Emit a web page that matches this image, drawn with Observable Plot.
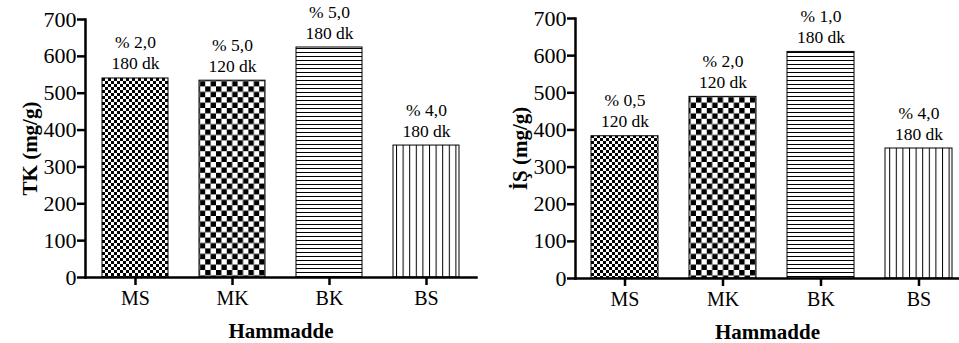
<!DOCTYPE html>
<html>
<head>
<meta charset="utf-8">
<script src="https://cdn.jsdelivr.net/npm/d3@7"></script>
<script src="https://cdn.jsdelivr.net/npm/@observablehq/plot@0.6"></script>
<style>
  html, body { margin: 0; padding: 0; background: #fff; }
  #row { display: flex; width: 959px; height: 343px; overflow: hidden; }
  #row svg { display: block; }
  #row svg, #row svg text { font-family: "Liberation Serif", "Times New Roman", Times, serif !important; }
</style>
</head>
<body>
<div id="row"></div>
<script>
// Raw materials on the x axis
const categories = ["MS", "MK", "BK", "BS"];

// TK (mg/g) panel
const tkValues = [540, 534, 624, 358];
const tkDose = ["% 2,0", "% 5,0", "% 5,0", "% 4,0"];
const tkTime = ["180 dk", "120 dk", "180 dk", "180 dk"];

// İŞ (mg/g) panel
const isValues = [383, 489, 610, 350];
const isDose = ["% 0,5", "% 2,0", "% 1,0", "% 4,0"];
const isTime = ["120 dk", "120 dk", "180 dk", "180 dk"];

const yTicks = [0, 100, 200, 300, 400, 500, 600, 700];
const xTitle = "Hammadde";

// Hatch / checker fills, one per raw material
function addPatterns(svg, id) {
  const defs = d3.select(svg).insert("defs", ":first-child");
  const checker = (name, c) => {
    const p = defs.append("pattern").attr("id", `${id}-${name}`)
      .attr("patternUnits", "userSpaceOnUse").attr("width", 2 * c).attr("height", 2 * c);
    p.append("rect").attr("width", 2 * c).attr("height", 2 * c).attr("fill", "#fff");
    p.append("rect").attr("width", c).attr("height", c).attr("fill", "#000");
    p.append("rect").attr("x", c).attr("y", c).attr("width", c).attr("height", c).attr("fill", "#000");
  };
  checker("MS", 3);
  checker("MK", 5.4);
  const h = defs.append("pattern").attr("id", `${id}-BK`)
    .attr("patternUnits", "userSpaceOnUse").attr("width", 10).attr("height", 4);
  h.append("rect").attr("width", 10).attr("height", 4).attr("fill", "#fff");
  h.append("rect").attr("y", 0).attr("width", 10).attr("height", 1).attr("fill", "#000");
  const v = defs.append("pattern").attr("id", `${id}-BS`)
    .attr("patternUnits", "userSpaceOnUse").attr("width", 6.6).attr("height", 10);
  v.append("rect").attr("width", 6.6).attr("height", 10).attr("fill", "#fff");
  v.append("rect").attr("x", 0).attr("width", 1).attr("height", 10).attr("fill", "#000");
}

function panel({id, values, dose, time, yLabel, width, marginLeft, marginRight, marginTop, marginBottom, xRange}) {
  const rows = categories.map((cat, i) => ({cat, value: values[i], note: dose[i] + "\n" + time[i]}));
  const svg = Plot.plot({
    width, height: 343,
    marginLeft, marginRight, marginTop, marginBottom,
    style: {background: "#fff", color: "#000", overflow: "visible"},
    x: {domain: categories, range: xRange, paddingInner: 0.32, paddingOuter: 0.16},
    y: {domain: [0, 700]},
    color: {type: "identity"},
    marks: [
      Plot.barY(rows, {x: "cat", y: "value", fill: d => `url(#${id}-${d.cat})`, stroke: "#000", strokeWidth: 1}),
      Plot.text(rows, {x: "cat", y: "value", text: "note", lineAnchor: "bottom", dy: -9, fontSize: 17.5, lineHeight: 1.2}),
      Plot.axisY({ticks: yTicks, tickSize: 8, strokeWidth: 2.5, fontSize: 22, tickPadding: 1,
        label: yLabel, labelAnchor: "center", labelArrow: "none", labelOffset: 63}),
      Plot.axisX({tickSize: 8, strokeWidth: 2.5, fontSize: 20, tickPadding: 5,
        label: xTitle, labelAnchor: "center", labelArrow: "none", labelOffset: 60}),
      Plot.frame({anchor: "left", strokeWidth: 2.5}),
      Plot.frame({anchor: "bottom", strokeWidth: 2.5})
    ]
  });
  addPatterns(svg, id);
  d3.select(svg).selectAll('[aria-label="y-axis label"], [aria-label="x-axis label"]')
    .attr("font-size", 21).attr("font-weight", "bold");
  return svg;
}

const row = document.getElementById("row");
row.append(panel({
  id: "tk", values: tkValues, dose: tkDose, time: tkTime, yLabel: "TK (mg/g)",
  width: 480, marginLeft: 85, marginRight: 4, marginTop: 19, marginBottom: 66, xRange: [85, 475]
}));
row.append(panel({
  id: "is", values: isValues, dose: isDose, time: isTime, yLabel: "İŞ (mg/g)",
  width: 479, marginLeft: 95, marginRight: 0, marginTop: 18, marginBottom: 65, xRange: [95, 487]
}));
</script>
</body>
</html>
